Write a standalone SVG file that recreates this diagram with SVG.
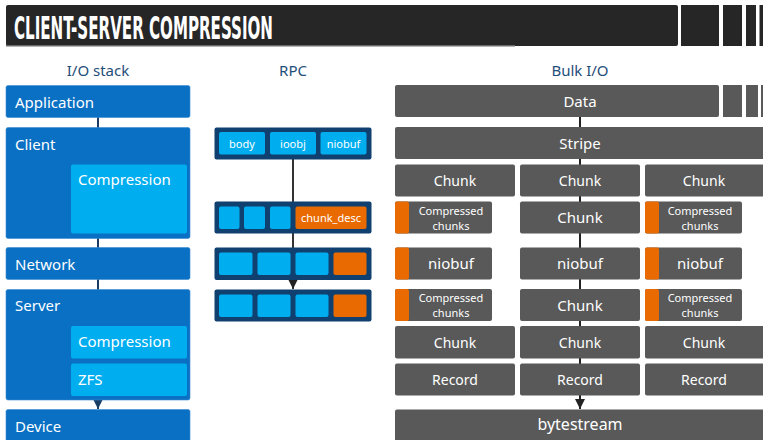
<svg xmlns="http://www.w3.org/2000/svg" width="763" height="440" viewBox="0 0 763 440">
  <defs>
    <style>
      .title { font-family: "DejaVu Sans Condensed", "DejaVu Sans", sans-serif; font-weight: bold; font-size: 32.5px; fill: #ffffff; }
      .hdr { font-family: "Noto Sans", "Open Sans", sans-serif; font-size: 15px; fill: #1f4e79; text-anchor: middle; }
      .lbl { font-family: "Noto Sans", "Open Sans", sans-serif; font-size: 15px; fill: #ffffff; }
      .c { text-anchor: middle; }
      .sm { font-family: "Noto Sans", "Open Sans", sans-serif; font-size: 14px; fill: #ffffff; text-anchor: middle; }
      .md { font-family: "Noto Sans", "Open Sans", sans-serif; font-size: 15px; fill: #ffffff; text-anchor: middle; }
      .xs { font-family: "Noto Sans", "Open Sans", sans-serif; font-size: 11px; fill: #ffffff; text-anchor: middle; }
      .blue { fill: #0a70c3; stroke: #3a8bd0; stroke-width: 0.6; }
      .lblue { fill: #00aeef; }
      .navy { fill: #10406f; }
      .orange { fill: #e96a00; }
      .gray { fill: #595959; }
      .bar { fill: #262626; }
      .conn { fill: none; stroke-width: 2; }
    </style>
    <marker id="arrowNavy" viewBox="0 0 10 10" refX="10" refY="5" markerWidth="5" markerHeight="5" orient="auto">
      <path d="M0,0 L10,5 L0,10 z" fill="#1a3d64"/>
    </marker>
    <marker id="arrowDark" viewBox="0 0 10 10" refX="10" refY="5" markerWidth="5" markerHeight="5" orient="auto">
      <path d="M0,0 L10,5 L0,10 z" fill="#222222"/>
    </marker>
  </defs>

  <rect width="763" height="440" fill="#ffffff"/>

  <!-- title bar -->
  <g id="title">
    <rect class="bar" x="6" y="5" width="672" height="41" rx="2"/>
    <rect class="bar" x="681" y="5" width="38" height="41"/>
    <rect class="bar" x="723" y="5" width="19" height="41"/>
    <rect class="bar" x="746" y="5" width="10" height="41"/>
    <rect class="bar" x="759.5" y="5" width="4" height="41"/>
    <rect x="6" y="45" width="509" height="1.5" fill="#6a6a6a"/>
    <text class="title" x="14" y="38.5" textLength="259" lengthAdjust="spacingAndGlyphs">CLIENT-SERVER COMPRESSION</text>
  </g>

  <!-- column headings -->
  <text class="hdr" x="98" y="76">I/O stack</text>
  <text class="hdr" x="293" y="76">RPC</text>
  <text class="hdr" x="580" y="76">Bulk I/O</text>

  <!-- connectors -->
  <g id="connectors">
    <line class="conn" x1="98" y1="117" x2="98" y2="128" stroke="#1a3d64"/>
    <line class="conn" x1="98" y1="238" x2="98" y2="248" stroke="#1a3d64"/>
    <line class="conn" x1="98" y1="279" x2="98" y2="290" stroke="#1a3d64"/>
    <line class="conn" x1="98" y1="399" x2="98" y2="409" stroke="#1a3d64" marker-end="url(#arrowNavy)"/>
    <line class="conn" x1="293" y1="158" x2="293" y2="289" stroke="#333333" marker-end="url(#arrowDark)"/>
    <line class="conn" x1="580" y1="116" x2="580" y2="409" stroke="#222222" marker-end="url(#arrowDark)"/>
  </g>

  <!-- I/O stack -->
  <g id="application">
    <rect class="blue" x="6" y="85.5" width="184" height="32" rx="2"/>
    <text class="lbl" x="15" y="107.5">Application</text>
  </g>
  <g id="client">
    <rect class="blue" x="6" y="127.5" width="184" height="111" rx="2"/>
    <text class="lbl" x="15" y="150">Client</text>
  </g>
  <g id="client-compression">
    <rect class="lblue" x="71" y="164.5" width="116" height="69" rx="2"/>
    <text class="lbl" x="78" y="185">Compression</text>
  </g>
  <g id="network">
    <rect class="blue" x="6" y="247.5" width="184" height="32" rx="2"/>
    <text class="lbl" x="15" y="269.5">Network</text>
  </g>
  <g id="server">
    <rect class="blue" x="6" y="289.5" width="184" height="110.5" rx="2"/>
    <text class="lbl" x="15" y="311">Server</text>
  </g>
  <g id="server-compression">
    <rect class="lblue" x="71" y="326" width="116" height="32.5" rx="2"/>
    <text class="lbl" x="78" y="347">Compression</text>
  </g>
  <g id="zfs">
    <rect class="lblue" x="71" y="363.5" width="116" height="32.5" rx="2"/>
    <text class="lbl" x="78" y="385">ZFS</text>
  </g>
  <g id="device">
    <rect class="blue" x="6" y="409.5" width="184" height="40" rx="2"/>
    <text class="lbl" x="15" y="432">Device</text>
  </g>

  <!-- RPC -->
  <g id="rpc-request">
    <rect class="navy" x="214.5" y="127.5" width="157" height="32" rx="2"/>
    <rect class="lblue" x="219" y="132" width="46" height="22.5" rx="2"/>
    <rect class="lblue" x="270" y="132" width="46" height="22.5" rx="2"/>
    <rect class="lblue" x="320.5" y="132" width="46" height="22.5" rx="2"/>
    <text class="xs" x="242" y="147.5">body</text>
    <text class="xs" x="293" y="147.5">ioobj</text>
    <text class="xs" x="343.5" y="147.5">niobuf</text>
  </g>
  <g id="rpc-desc">
    <rect class="navy" x="214.5" y="201.5" width="157" height="32" rx="2"/>
    <rect class="lblue" x="219" y="206.5" width="20.5" height="22.5" rx="2"/>
    <rect class="lblue" x="244" y="206.5" width="21" height="22.5" rx="2"/>
    <rect class="lblue" x="270" y="206.5" width="20.5" height="22.5" rx="2"/>
    <rect class="orange" x="295.5" y="206.5" width="71" height="22.5" rx="2"/>
    <text class="xs" x="331" y="222">chunk_desc</text>
  </g>
  <g id="rpc-row3">
    <rect class="navy" x="214.5" y="247.5" width="157" height="32.5" rx="2"/>
    <rect class="lblue" x="219" y="252.5" width="33.5" height="22.5" rx="2"/>
    <rect class="lblue" x="257.5" y="252.5" width="33" height="22.5" rx="2"/>
    <rect class="lblue" x="295.5" y="252.5" width="33" height="22.5" rx="2"/>
    <rect class="orange" x="333.5" y="252.5" width="33" height="22.5" rx="2"/>
  </g>
  <g id="rpc-row4">
    <rect class="navy" x="214.5" y="289.5" width="157" height="32" rx="2"/>
    <rect class="lblue" x="219" y="294.5" width="33.5" height="22.5" rx="2"/>
    <rect class="lblue" x="257.5" y="294.5" width="33" height="22.5" rx="2"/>
    <rect class="lblue" x="295.5" y="294.5" width="33" height="22.5" rx="2"/>
    <rect class="orange" x="333.5" y="294.5" width="33" height="22.5" rx="2"/>
  </g>

  <!-- Bulk I/O -->
  <g id="data">
    <rect class="gray" x="395" y="85" width="324" height="32" rx="2"/>
    <rect class="gray" x="723" y="85" width="19" height="32"/>
    <rect class="gray" x="746" y="85" width="12" height="32"/>
    <rect class="gray" x="761" y="85" width="4" height="32"/>
    <text class="lbl c" x="580" y="107">Data</text>
  </g>
  <g id="stripe">
    <rect class="gray" x="395" y="127" width="372" height="32" rx="2"/>
    <text class="lbl c" x="580" y="149">Stripe</text>
  </g>

  <g id="chunk-1a"><rect class="gray" x="395" y="164.5" width="120" height="32" rx="2"/><text class="sm" x="455" y="186">Chunk</text></g>
  <g id="chunk-2a"><rect class="gray" x="520" y="164.5" width="120" height="32" rx="2"/><text class="sm" x="580" y="186">Chunk</text></g>
  <g id="chunk-3a"><rect class="gray" x="645" y="164.5" width="122" height="32" rx="2"/><text class="sm" x="704" y="186">Chunk</text></g>

  <g id="compressed-1a">
    <rect class="gray" x="395" y="201.5" width="97" height="32" rx="2"/>
    <rect class="orange" x="395" y="201.5" width="14" height="32" rx="2"/>
    <text class="xs" x="451" y="214.5">Compressed</text>
    <text class="xs" x="451" y="229.5">chunks</text>
  </g>
  <g id="chunk-2b"><rect class="gray" x="520" y="201.5" width="120" height="32" rx="2"/><text class="md" x="580" y="223">Chunk</text></g>
  <g id="compressed-3a">
    <rect class="gray" x="645" y="201.5" width="97" height="32" rx="2"/>
    <rect class="orange" x="645" y="201.5" width="14" height="32" rx="2"/>
    <text class="xs" x="700" y="214.5">Compressed</text>
    <text class="xs" x="700" y="229.5">chunks</text>
  </g>

  <g id="niobuf-1">
    <rect class="gray" x="395" y="247.5" width="97" height="32" rx="2"/>
    <rect class="orange" x="395" y="247.5" width="14" height="32" rx="2"/>
    <text class="md" x="451" y="269">niobuf</text>
  </g>
  <g id="niobuf-2"><rect class="gray" x="520" y="247.5" width="120" height="32" rx="2"/><text class="md" x="580" y="269">niobuf</text></g>
  <g id="niobuf-3">
    <rect class="gray" x="645" y="247.5" width="97" height="32" rx="2"/>
    <rect class="orange" x="645" y="247.5" width="14" height="32" rx="2"/>
    <text class="md" x="700" y="269">niobuf</text>
  </g>

  <g id="compressed-1b">
    <rect class="gray" x="395" y="289" width="97" height="32" rx="2"/>
    <rect class="orange" x="395" y="289" width="14" height="32" rx="2"/>
    <text class="xs" x="451" y="302">Compressed</text>
    <text class="xs" x="451" y="317">chunks</text>
  </g>
  <g id="chunk-2c"><rect class="gray" x="520" y="289" width="120" height="32" rx="2"/><text class="md" x="580" y="311">Chunk</text></g>
  <g id="compressed-3b">
    <rect class="gray" x="645" y="289" width="97" height="32" rx="2"/>
    <rect class="orange" x="645" y="289" width="14" height="32" rx="2"/>
    <text class="xs" x="700" y="302">Compressed</text>
    <text class="xs" x="700" y="317">chunks</text>
  </g>

  <g id="chunk-1d"><rect class="gray" x="395" y="326" width="120" height="32.5" rx="2"/><text class="sm" x="455" y="347.5">Chunk</text></g>
  <g id="chunk-2d"><rect class="gray" x="520" y="326" width="120" height="32.5" rx="2"/><text class="sm" x="580" y="347.5">Chunk</text></g>
  <g id="chunk-3d"><rect class="gray" x="645" y="326" width="122" height="32.5" rx="2"/><text class="sm" x="704" y="347.5">Chunk</text></g>

  <g id="record-1"><rect class="gray" x="395" y="363.5" width="120" height="32" rx="2"/><text class="sm" x="455" y="385">Record</text></g>
  <g id="record-2"><rect class="gray" x="520" y="363.5" width="120" height="32" rx="2"/><text class="sm" x="580" y="385">Record</text></g>
  <g id="record-3"><rect class="gray" x="645" y="363.5" width="122" height="32" rx="2"/><text class="sm" x="704" y="385">Record</text></g>

  <g id="bytestream">
    <rect class="gray" x="395" y="409.5" width="372" height="40" rx="2"/>
    <text class="lbl c" x="580" y="430" style="font-size:16px">bytestream</text>
  </g>
</svg>
